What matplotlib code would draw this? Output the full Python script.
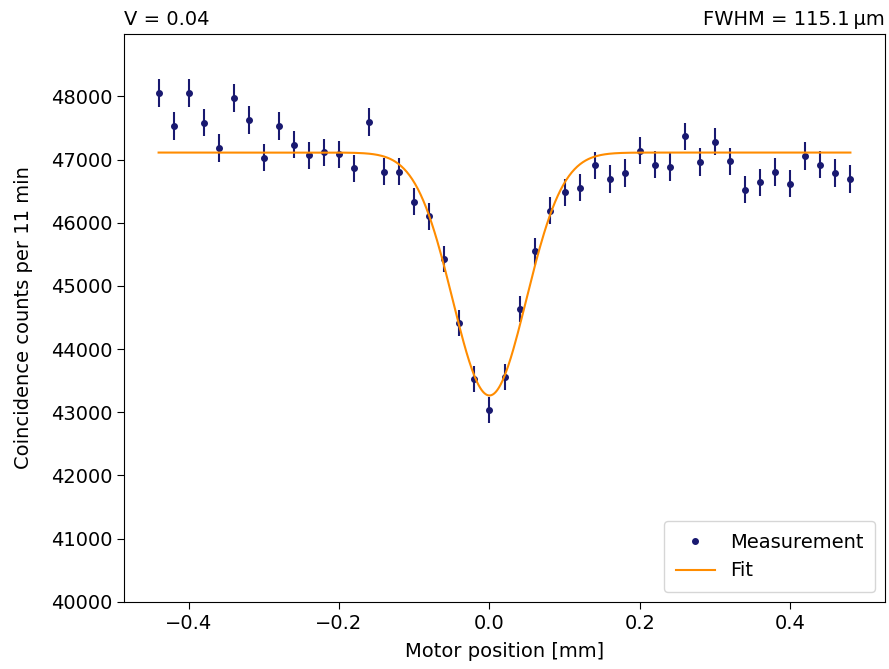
import matplotlib
matplotlib.use("Agg")
import matplotlib.pyplot as plt
import numpy as np

# measured coincidence counts vs motor position
position_mm = np.round(np.arange(-0.44, 0.4801, 0.02), 2)
counts = [
    48050, 47530, 48055, 47585, 47185, 47975, 47625, 47030, 47530, 47235,
    47065, 47115, 47080, 46860, 47595, 46805, 46805, 46335, 46100, 45425,
    44415, 43525, 43035, 43560, 44635, 45545, 46190, 46480, 46555, 46910,
    46690, 46785, 47140, 46920, 46880, 47365, 46960, 47285, 46970, 46520,
    46640, 46800, 46615, 47055, 46920, 46785, 46690,
]
counts = np.array(counts)
errors = np.sqrt(counts)

# gaussian dip fit parameters
baseline = 47110
depth = 3845
center = 0.0
fwhm = 0.1151
visibility = 0.04

sigma = fwhm / (2 * np.sqrt(2 * np.log(2)))
x_fit = np.linspace(position_mm[0], position_mm[-1], 500)
y_fit = baseline - depth * np.exp(-(x_fit - center) ** 2 / (2 * sigma ** 2))

fig = plt.figure(figsize=(8.89, 6.69), dpi=100)
ax = fig.add_axes([0.1395, 0.1005, 0.856, 0.849])

ax.plot(position_mm, counts, '.', color='midnightblue', markersize=8,
        label='Measurement')
ax.errorbar(position_mm, counts, yerr=errors, fmt='none',
            ecolor='midnightblue', elinewidth=1.5)
ax.plot(x_fit, y_fit, color='darkorange', linewidth=1.5, label='Fit')

ax.set_ylim(40000, 48990)
ax.set_xlabel('Motor position [mm]', fontsize=14, labelpad=7)
ax.set_ylabel('Coincidence counts per 11 min', fontsize=14, labelpad=13)
ax.tick_params(labelsize=14, length=5)
ax.set_title(f'V = {visibility:.2f}', loc='left', fontsize=14)
ax.set_title(f'FWHM = {fwhm * 1000:.1f}\u2009\u00b5m', loc='right', fontsize=14)

ax.legend(loc='lower right', fontsize=14, borderpad=0.6)

fig.savefig('out.png', dpi=100)
